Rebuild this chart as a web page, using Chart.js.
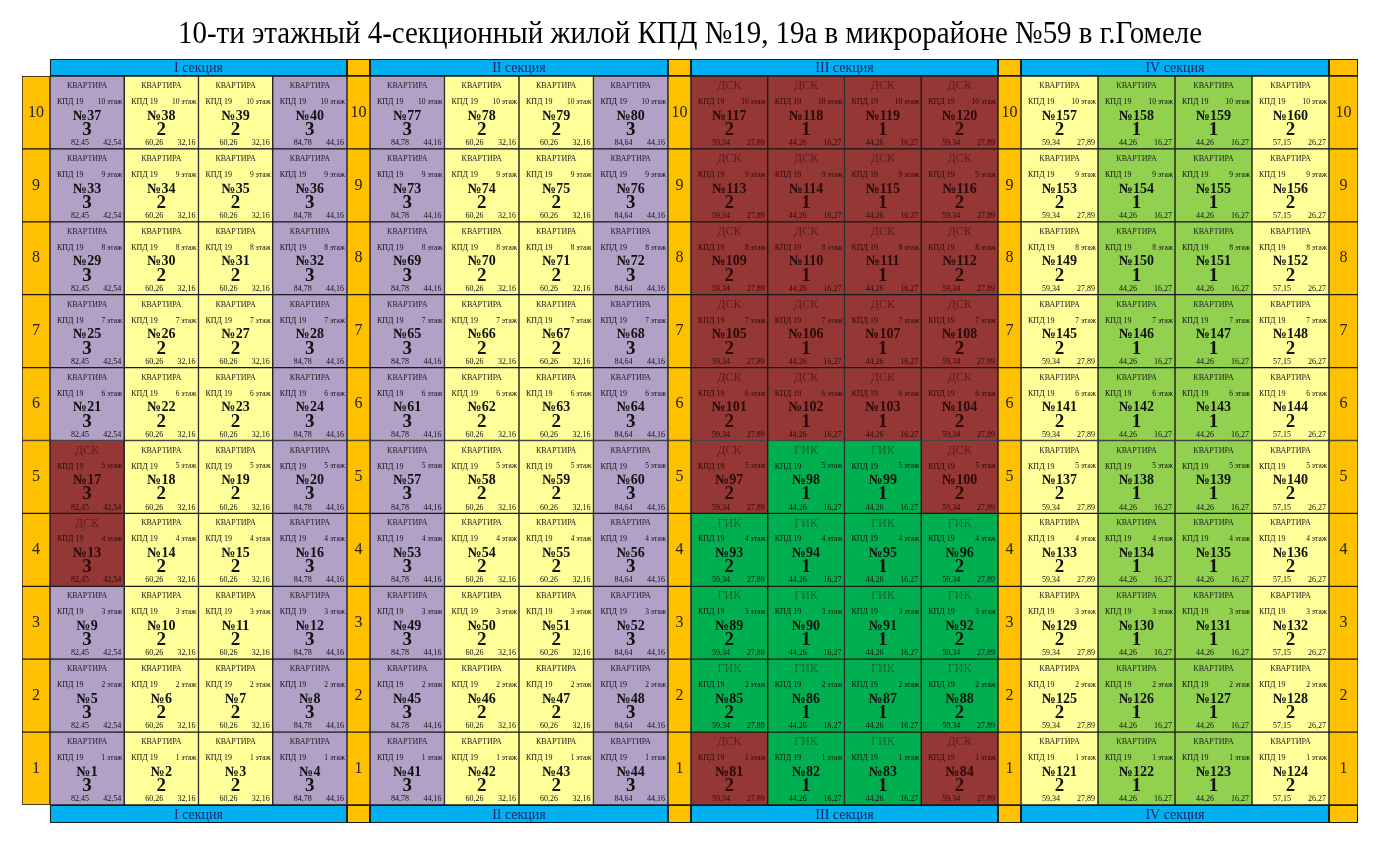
<!DOCTYPE html>
<html>
<head>
<meta charset="utf-8">
<script src="https://cdn.jsdelivr.net/npm/chart.js@4.4.0/dist/chart.umd.min.js"></script>
<style>
  html, body { margin: 0; padding: 0; background: #fff; }
  #wrap { width: 1382px; height: 848px; }
</style>
</head>
<body>
<div id="wrap"><canvas id="plan"></canvas></div>
<script>
const title = '10-ти этажный 4-секционный жилой КПД №19, 19а в микрорайоне №59 в г.Гомеле';
const floors = ['10', '9', '8', '7', '6', '5', '4', '3', '2', '1'];
const sectionNames = ['I секция', 'II секция', 'III секция', 'IV секция'];

// first apartment number on each floor (floors 10..1), one list per section
const firstNo = [
  [37, 33, 29, 25, 21, 17, 13, 9, 5, 1],
  [77, 73, 69, 65, 61, 57, 53, 49, 45, 41],
  [117, 113, 109, 105, 101, 97, 93, 89, 85, 81],
  [157, 153, 149, 145, 141, 137, 133, 129, 125, 121],
];
const rooms = [[3, 2, 2, 3], [3, 2, 2, 3], [2, 1, 1, 2], [2, 1, 1, 2]];
const areaTotal = [
  ['82,45', '60,26', '60,26', '84,78'],
  ['84,78', '60,26', '60,26', '84,64'],
  ['59,34', '44,26', '44,26', '59,34'],
  ['59,34', '44,26', '44,26', '57,15'],
];
const areaLiving = [
  ['42,54', '32,16', '32,16', '44,16'],
  ['44,16', '32,16', '32,16', '44,16'],
  ['27,89', '16,27', '16,27', '27,89'],
  ['27,89', '16,27', '16,27', '26,27'],
];
// kind of each flat per floor (10..1): L/Y/V = КВАРТИРА, D = ДСК, G = ГИК
const kindsI = ['LYYL', 'LYYL', 'LYYL', 'LYYL', 'LYYL', 'DYYL', 'DYYL', 'LYYL', 'LYYL', 'LYYL'];
const kindsII = ['LYYL', 'LYYL', 'LYYL', 'LYYL', 'LYYL', 'LYYL', 'LYYL', 'LYYL', 'LYYL', 'LYYL'];
const kindsIII = ['DDDD', 'DDDD', 'DDDD', 'DDDD', 'DDDD', 'DGGD', 'GGGG', 'GGGG', 'GGGG', 'DGGD'];
const kindsIV = ['YVVY', 'YVVY', 'YVVY', 'YVVY', 'YVVY', 'YVVY', 'YVVY', 'YVVY', 'YVVY', 'YVVY'];
const kinds = [kindsI, kindsII, kindsIII, kindsIV];

// styles
const SERIF = "'Liberation Serif', 'Times New Roman', serif";
const FILL = { L: '#b2a1c7', Y: '#ffff99', V: '#92d050', D: '#953735', G: '#00b050' };
const LABEL = { L: 'КВАРТИРА', Y: 'КВАРТИРА', V: 'КВАРТИРА', D: 'ДСК', G: 'ГИК' };
const ORANGE = '#ffc000';
const BLUE = '#00b0f0';
const LINE = '#1a1a1a';

// column widths in cell units
const EDGE_L = 0.368, EDGE_R = 0.382, GAP = 0.303;
const CELL_W = [0.977, 0.98, 1.01, 1.013];

const cols = [];
let cx = 0;
cols.push({ type: 'floor', x0: cx, x1: cx + EDGE_L, full: false });
cx += EDGE_L;
for (let s = 0; s < 4; s++) {
  for (let c = 0; c < 4; c++) {
    cols.push({ type: 'apt', s, c, x0: cx, x1: cx + CELL_W[s] });
    cx += CELL_W[s];
  }
  const w = s < 3 ? GAP : EDGE_R;
  cols.push({ type: 'floor', x0: cx, x1: cx + w, full: true });
  cx += w;
}
const xMax = cx;

const datasets = cols.map((col) => ({
  data: floors.map(() => [col.x0, col.x1]),
  backgroundColor: floors.map((f, r) => (col.type === 'floor' ? ORANGE : FILL[kinds[col.s][r][col.c]])),
  borderColor: LINE,
  borderWidth: 1,
  borderSkipped: false,
  grouped: false,
  barPercentage: 1,
  categoryPercentage: 1,
}));

function text(ctx, s, x, y, size, { bold = false, align = 'center', color = '#111' } = {}) {
  ctx.font = `${bold ? 'bold ' : ''}${size}px ${SERIF}`;
  ctx.textAlign = align;
  ctx.textBaseline = 'middle';
  ctx.fillStyle = color;
  ctx.fillText(s, x, y);
}

const planText = {
  id: 'planText',
  afterDraw(chart) {
    const { ctx, chartArea: a, scales: { x, y } } = chart;
    const rowH = (a.bottom - a.top) / floors.length;
    ctx.save();

    // title: tall serif squeezed to the reference width
    ctx.save();
    ctx.font = `32px ${SERIF}`;
    const tw = ctx.measureText(title).width;
    ctx.translate(690, 35);
    ctx.scale(1024 / tw, 1);
    text(ctx, title, 0, 0, 32, { color: '#000' });
    ctx.restore();

    // header / footer strips
    const hTop = a.top - 17, fBot = a.bottom + 18;
    ctx.lineWidth = 1;
    ctx.strokeStyle = LINE;
    for (let s = 0; s < 4; s++) {
      const first = cols.find((c) => c.type === 'apt' && c.s === s && c.c === 0);
      const last = cols.find((c) => c.type === 'apt' && c.s === s && c.c === 3);
      const x0 = x.getPixelForValue(first.x0), x1 = x.getPixelForValue(last.x1);
      for (const [t, b] of [[hTop, a.top], [a.bottom, fBot]]) {
        ctx.fillStyle = BLUE;
        ctx.fillRect(x0, t, x1 - x0, b - t);
        ctx.strokeRect(x0 + 0.5, t + 0.5, x1 - x0 - 1, b - t - 1);
        text(ctx, sectionNames[s], (x0 + x1) / 2, (t + b) / 2 + 1, 14, { color: '#14286b' });
      }
    }
    cols.filter((c) => c.type === 'floor' && c.full).forEach((c) => {
      const x0 = x.getPixelForValue(c.x0), x1 = x.getPixelForValue(c.x1);
      for (const [t, b] of [[hTop, a.top], [a.bottom, fBot]]) {
        ctx.fillStyle = ORANGE;
        ctx.fillRect(x0, t, x1 - x0, b - t);
        ctx.strokeRect(x0 + 0.5, t + 0.5, x1 - x0 - 1, b - t - 1);
      }
    });

    // cell contents
    floors.forEach((floor, r) => {
      const top = y.getPixelForValue(r) - rowH / 2;
      cols.forEach((col) => {
        const left = x.getPixelForValue(col.x0), right = x.getPixelForValue(col.x1);
        const mid = (left + right) / 2;
        if (col.type === 'floor') {
          text(ctx, floor, mid, top + rowH / 2, 16, { color: '#222' });
          return;
        }
        const k = kinds[col.s][r][col.c];
        const ink = k === 'D' ? '#2a0a0a' : '#111';
        if (k === 'D') text(ctx, LABEL[k], mid, top + 10, 12, { color: '#5e1d1c' });
        else if (k === 'G') text(ctx, LABEL[k], mid, top + 10, 12, { color: '#0d6a33' });
        else text(ctx, LABEL[k], mid, top + 10, 8, { color: '#222' });
        text(ctx, 'КПД 19', left + 7, top + 26, 8, { align: 'left', color: ink });
        text(ctx, `${floor} этаж`, right - 2, top + 26, 7.5, { align: 'right', color: ink });
        text(ctx, '№' + (firstNo[col.s][r] + col.c), mid, top + 40, 14, { bold: true, color: ink });
        text(ctx, String(rooms[col.s][col.c]), mid, top + 54, 19, { bold: true, color: ink });
        text(ctx, areaTotal[col.s][col.c], left + 21, top + 67, 8, { align: 'left', color: ink });
        text(ctx, areaLiving[col.s][col.c], right - 3, top + 67, 8, { align: 'right', color: ink });
      });
    });
    ctx.restore();
  },
};

new Chart(document.getElementById('plan'), {
  type: 'bar',
  data: { labels: floors, datasets },
  options: {
    indexAxis: 'y',
    responsive: true,
    maintainAspectRatio: false,
    animation: false,
    layout: { padding: { left: 22, right: 24, top: 76, bottom: 43 } },
    plugins: { legend: { display: false }, tooltip: { enabled: false }, title: { display: false } },
    scales: {
      x: { type: 'linear', min: 0, max: xMax, display: false },
      y: { type: 'category', display: false },
    },
  },
  plugins: [planText],
});
</script>
</body>
</html>
